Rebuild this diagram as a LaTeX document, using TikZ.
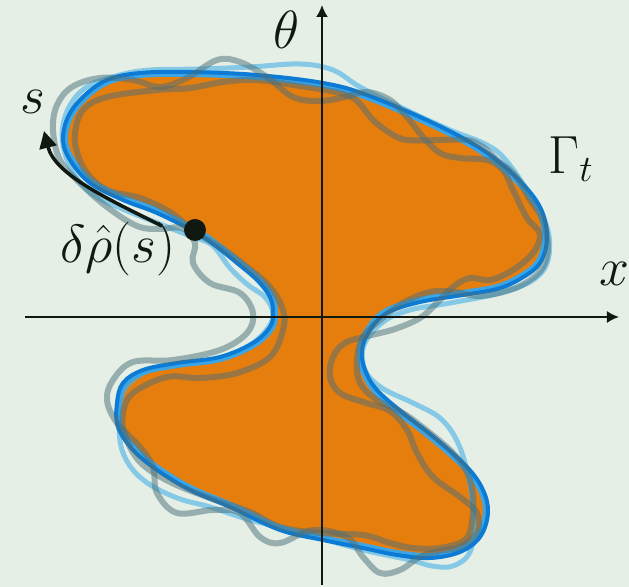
\documentclass[tikz,border=0pt]{standalone}
\usepackage{amsmath}
\usepackage{tikz}
\usetikzlibrary{arrows.meta}
\definecolor{bgcol}{RGB}{229,239,230}
\definecolor{blobfill}{RGB}{230,126,14}
\definecolor{frontblue}{RGB}{11,123,213}
\definecolor{midblue}{RGB}{60,165,230}
\definecolor{paleblue}{RGB}{69,176,230}
\definecolor{wavegrey}{RGB}{75,110,120}
\definecolor{inkcol}{RGB}{16,24,18}
\newcommand{\lbl}[1]{\scalebox{1.08}{$#1$}}

% front Gamma_t (fill + dark outline)
\newcommand{\frontpath}{plot[smooth cycle, tension=0.6] coordinates {
  (107,80) (140,73) (190,72) (257,75) (323,83) (367,95) (433,123) (483,150)
  (517,178) (540,207) (547,237) (540,263) (520,279) (497,289) (463,295)
  (420,302) (387,313) (370,330) (362,350) (365,370) (377,390) (403,413)
  (435,438) (467,467) (483,490) (488,513) (480,537) (460,552) (430,558)
  (397,555) (363,548) (323,540) (280,530) (230,507) (190,490) (157,470)
  (133,450) (118,427) (117,403) (123,383) (143,370) (177,363) (220,357)
  (253,343) (270,327) (273,313) (270,297) (257,280) (237,263) (217,247)
  (195,232) (157,213) (123,200) (90,183) (70,160) (63,140) (68,117) (83,97)}}
% smooth perturbation
\newcommand{\palepath}{plot[smooth cycle, tension=0.6] coordinates {
  (120,75) (150,70) (200,69) (250,67) (300,64) (333,70) (360,87) (400,107)
  (450,130) (483,143) (503,157) (527,190) (547,227) (548,260) (533,280)
  (500,293) (450,303) (410,310) (383,322) (364,345) (365,370) (382,388)
  (413,403) (440,418) (457,441) (468,475) (474,520) (470,552) (453,566)
  (432,566) (410,560) (363,550) (320,538) (280,527) (250,520) (210,507)
  (180,499) (152,486) (133,470) (122,450) (119,427) (120,403) (128,385)
  (150,370) (180,364) (220,358) (250,345) (268,328) (273,313) (265,297)
  (248,285) (230,268) (212,245) (190,236) (160,224) (125,210) (95,196)
  (75,176) (64,150) (63,125) (72,102) (90,85)}}
% wavy perturbations
\newcommand{\wavea}{plot[smooth cycle, tension=0.6] coordinates {
  (80,183) (60,160) (53,130) (57,105) (72,87) (100,78) (133,80) (160,87)
  (187,78) (217,60) (240,62) (267,77) (293,97) (320,101) (345,97) (367,92)
  (390,100) (407,117) (423,137) (440,153) (460,158) (487,160) (503,170)
  (513,190) (527,218) (540,234) (533,253) (513,270) (490,280) (470,278)
  (453,287) (437,303) (420,318) (395,329) (368,336) (345,343) (333,357)
  (330,377) (340,393) (363,402) (390,411) (407,430) (417,453) (433,477)
  (460,497) (477,513) (477,533) (460,547) (440,551) (420,557) (400,570)
  (380,573) (363,557) (347,537) (313,530) (280,543) (260,537) (240,513)
  (213,510) (177,513) (157,493) (153,467) (140,447) (117,423) (107,400)
  (113,380) (133,362) (173,360) (220,350) (247,333) (253,313) (240,293)
  (210,283) (193,263) (195,243) (182,228) (160,229) (137,226) (107,207)}}
\newcommand{\waveb}{plot[smooth cycle, tension=0.6] coordinates {
  (107,97) (157,90) (190,88) (223,82) (257,80) (300,86) (340,93) (357,101)
  (373,120) (390,133) (407,140) (440,140) (467,140) (483,147) (497,160)
  (510,170) (520,182) (530,200) (543,220) (548,247) (543,267) (530,280)
  (510,290) (480,296) (455,292) (430,292) (403,303) (380,320) (363,337)
  (357,360) (360,383) (377,400) (403,413) (430,433) (453,453) (467,472)
  (473,495) (472,522) (465,540) (440,548) (413,548) (390,543) (363,535)
  (320,533) (280,527) (250,512) (210,498) (170,482) (140,462) (125,435)
  (123,413) (133,393) (167,377) (200,378) (237,373) (270,357) (283,330)
  (283,310) (270,287) (247,267) (220,247) (195,232) (170,212) (140,198)
  (107,190) (87,173) (77,152) (75,133) (83,110)}}

\begin{document}
\begin{tikzpicture}[x=0.5pt, y=-0.5pt,
    every node/.style={text=inkcol, inner sep=1pt, font=\fontsize{25}{30}\selectfont},
    axis/.style={inkcol, line width=1pt, -{Latex[length=6pt, width=6pt]}},
    wave/.style={wavegrey, opacity=0.5, line width=3pt}]
    \fill[bgcol] (0,0) rectangle (629,587);
    \useasboundingbox (0,0) rectangle (629,587);

    % region and its boundary
    \fill[blobfill] \frontpath;
    \draw[paleblue, opacity=0.6, line width=2.5pt] \palepath;
    \begin{scope}
        \clip \frontpath;
        \draw[midblue, line width=5pt] \frontpath;
    \end{scope}
    \draw[frontblue, line width=2pt] \frontpath;

    % perturbed curves
    \draw[wave] \wavea;
    \draw[wave] \waveb;

    % axes
    \coordinate (xl) at (25,317);
    \coordinate (xr) at (619,317);
    \coordinate (yb) at (322,585);
    \coordinate (yt) at (322,5);
    \draw[axis] (xl) -- (xr);
    \draw[axis] (yb) -- (yt);
    \node (theta) at (286,30) {\lbl{\theta}};
    \node (xlab) at (614,274) {\lbl{x}};
    \node (gamma) at (571,159) {\lbl{\Gamma_t}};

    % arc length direction and the point
    \coordinate (sfrom) at (162,226);
    \coordinate (sto) at (44,131);
    \draw[inkcol, line width=1.75pt, -{Triangle[length=8.5pt, width=8.5pt]}]
        (sfrom) .. controls (110,200) and (55,175) .. (sto);
    \node (slab) at (33,102) {\lbl{s}};
    \node[circle, fill=inkcol, inner sep=0pt, minimum size=11pt] (pt) at (195,230) {};
    \node (drho) at (118,249) {\lbl{\delta\hat{\rho}(s)}};
\end{tikzpicture}
\end{document}
